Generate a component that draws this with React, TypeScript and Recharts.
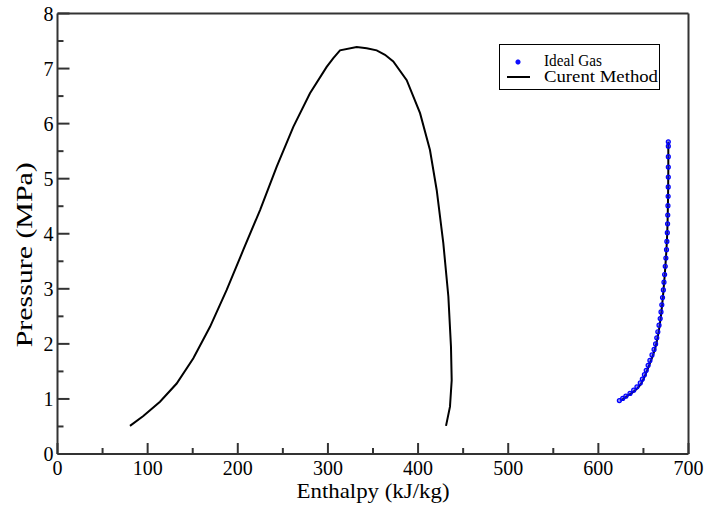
import React from "react";
import { ComposedChart, Line, Scatter, XAxis, YAxis } from "recharts";

// saturation dome, current method
const domeH = [80.4, 95.2, 113.7, 132.2, 150.7, 169.2, 187.7, 206.2, 224.7, 243.2, 261.6, 280.1, 298.6, 306, 313.4, 331.9, 343, 354.1, 363.3, 372.5, 387.4, 402.2, 413.2, 420.7, 428, 433.6, 436.5, 437.3, 435.4, 431];
const domeP = [0.51, 0.69, 0.95, 1.28, 1.74, 2.31, 2.98, 3.71, 4.43, 5.22, 5.94, 6.55, 7.03, 7.19, 7.33, 7.39, 7.37, 7.33, 7.25, 7.13, 6.79, 6.19, 5.52, 4.79, 3.83, 2.86, 1.95, 1.34, 0.86, 0.51];

// superheated branch, current method
const curH = [624.5, 636.5, 647.5, 656.5, 663.5, 668.8, 672.3, 674.8, 676.4, 677.2, 677.6, 677.6];
const curP = [0.97, 1.1, 1.28, 1.62, 1.95, 2.43, 2.98, 3.52, 4.01, 4.55, 5.16, 5.67];

// ideal gas points
const idealH = [623.3, 627, 630.5, 635.1, 639.2, 642.8, 646.5, 648.8, 651.1, 653.1, 655.2, 657.2, 659.5, 661.8, 663.5, 664.8, 666, 667.3, 668.6, 669.5, 670.4, 671.2, 672.1, 672.8, 673.5, 674.2, 674.9, 675.6, 676, 676.5, 676.8, 677, 677.2, 677.4, 677.5, 677.6, 677.6, 677.6, 677.6, 677.6];
const idealP = [0.97, 1.01, 1.05, 1.1, 1.16, 1.22, 1.29, 1.36, 1.44, 1.52, 1.61, 1.7, 1.8, 1.9, 2.0, 2.11, 2.22, 2.34, 2.46, 2.58, 2.71, 2.84, 2.98, 3.12, 3.26, 3.41, 3.56, 3.71, 3.86, 4.02, 4.18, 4.34, 4.51, 4.68, 4.85, 5.03, 5.21, 5.4, 5.59, 5.67];

const xTicks = [0, 50, 100, 150, 200, 250, 300, 350, 400, 450, 500, 550, 600, 650, 700];
const yTicks = [0, 0.5, 1, 1.5, 2, 2.5, 3, 3.5, 4, 4.5, 5, 5.5, 6, 6.5, 7, 7.5, 8];

const zip = (hs: number[], ps: number[]) => hs.map((h, i) => ({ h, p: ps[i] }));
const dome = zip(domeH, domeP);
const cur = zip(curH, curP);
const ideal = zip(idealH, idealP);

const FONT = '"Liberation Serif"';
const AXIS = "#333";
const txt = { fontFamily: FONT, fill: "#000" };

const BottomTick = (props: any) => {
  const { x, y, payload } = props;
  const major = payload.value % 100 === 0;
  return (
    <g>
      <line x1={x} x2={x} y1={y} y2={y - (major ? 11 : 6)} stroke={AXIS} strokeWidth={2} />
      {major && (
        <text x={x} y={y + 21} textAnchor="middle" fontSize={20} style={txt}>
          {payload.value}
        </text>
      )}
    </g>
  );
};

const TopTick = (props: any) => {
  const { x, y, payload } = props;
  const major = payload.value % 100 === 0;
  return <line x1={x} x2={x} y1={y} y2={y + (major ? 11 : 6)} stroke={AXIS} strokeWidth={2} />;
};

const LeftTick = (props: any) => {
  const { x, y, payload } = props;
  const major = payload.value % 1 === 0;
  return (
    <g>
      <line x1={x} x2={x + (major ? 12 : 6)} y1={y} y2={y} stroke={AXIS} strokeWidth={2} />
      {major && (
        <text x={x - 4} y={y + 7} textAnchor="end" fontSize={20} style={txt}>
          {payload.value}
        </text>
      )}
    </g>
  );
};

const RightTick = (props: any) => {
  const { x, y, payload } = props;
  const major = payload.value % 1 === 0;
  return <line x1={x} x2={x - (major ? 12 : 6)} y1={y} y2={y} stroke={AXIS} strokeWidth={2} />;
};

const XLabel = (props: any) => {
  const vb = props.viewBox || { x: 57.5, y: 454, width: 631, height: 0 };
  return (
    <text x={vb.x + vb.width / 2} y={454 + 44} textAnchor="middle" fontSize={22} style={txt} textLength={153} lengthAdjust="spacingAndGlyphs">
      Enthalpy (kJ/kg)
    </text>
  );
};

const YLabel = (props: any) => {
  const vb = props.viewBox || { x: 56.5, y: 13.5, height: 440.5 };
  const cx = 32;
  const cy = vb.y + vb.height / 2 + 21;
  return (
    <text x={cx} y={cy} transform={`rotate(-90, ${cx}, ${cy})`} textAnchor="middle" fontSize={24} style={txt} textLength={185} lengthAdjust="spacingAndGlyphs">
      Pressure (MPa)
    </text>
  );
};

const Dot = (props: any) => <circle cx={props.cx} cy={props.cy} r={2} fill="#2020ff" fillOpacity={0.5} stroke="#0000ff" strokeWidth={1.2} />;

const LegendBox = () => (
  <div style={{ position: "absolute", left: 499, top: 44, width: 161, height: 46, border: "1px solid #000", background: "#fff", boxSizing: "border-box" }}>
    <svg width={159} height={44} style={{ display: "block" }}>
      <circle cx={18} cy={17} r={2.2} fill="#1010ff" stroke="#0000ff" strokeWidth={0.8} />
      <text x={44} y={21} fontSize={16} style={txt} textLength={58} lengthAdjust="spacingAndGlyphs">Ideal Gas</text>
      <line x1={7} x2={30} y1={32} y2={32} stroke="#000" strokeWidth={2} />
      <text x={44} y={37} fontSize={16} style={txt} textLength={114} lengthAdjust="spacingAndGlyphs">Curent Method</text>
    </svg>
  </div>
);

export default function App() {
  return (
    <div style={{ position: "absolute", left: 0, top: 0, width: 707, height: 511, background: "#fff" }}>
      <ComposedChart width={707} height={511} margin={{ top: 12.5, right: 17.5, bottom: 56, left: 56.5 }}>
        <XAxis
          dataKey="h"
          type="number"
          domain={[0, 700]}
          ticks={xTicks}
          interval={0}
          height={1}
          tickSize={0}
          tickMargin={0}
          tickLine={false}
          tick={<BottomTick />}
          axisLine={{ stroke: AXIS, strokeWidth: 2 }}
          label={<XLabel />}
        />
        <XAxis
          xAxisId="top"
          orientation="top"
          type="number"
          domain={[0, 700]}
          ticks={xTicks}
          interval={0}
          height={1}
          tickSize={0}
          tickMargin={0}
          tickLine={false}
          tick={<TopTick />}
          axisLine={{ stroke: AXIS, strokeWidth: 2 }}
        />
        <YAxis
          dataKey="p"
          type="number"
          domain={[0, 8]}
          ticks={yTicks}
          interval={0}
          width={1}
          tickSize={0}
          tickMargin={0}
          tickLine={false}
          tick={<LeftTick />}
          axisLine={{ stroke: AXIS, strokeWidth: 2 }}
          label={<YLabel />}
        />
        <YAxis
          yAxisId="right"
          orientation="right"
          type="number"
          domain={[0, 8]}
          ticks={yTicks}
          interval={0}
          width={1}
          tickSize={0}
          tickMargin={0}
          tickLine={false}
          tick={<RightTick />}
          axisLine={{ stroke: AXIS, strokeWidth: 2 }}
        />
        <Line data={dome} dataKey="p" type="linear" stroke="#000" strokeWidth={2} dot={false} isAnimationActive={false} />
        <Line data={cur} dataKey="p" type="natural" stroke="#000" strokeWidth={2} dot={false} isAnimationActive={false} />
        <Scatter data={ideal} dataKey="p" shape={<Dot />} isAnimationActive={false} />
      </ComposedChart>
      <LegendBox />
    </div>
  );
}
